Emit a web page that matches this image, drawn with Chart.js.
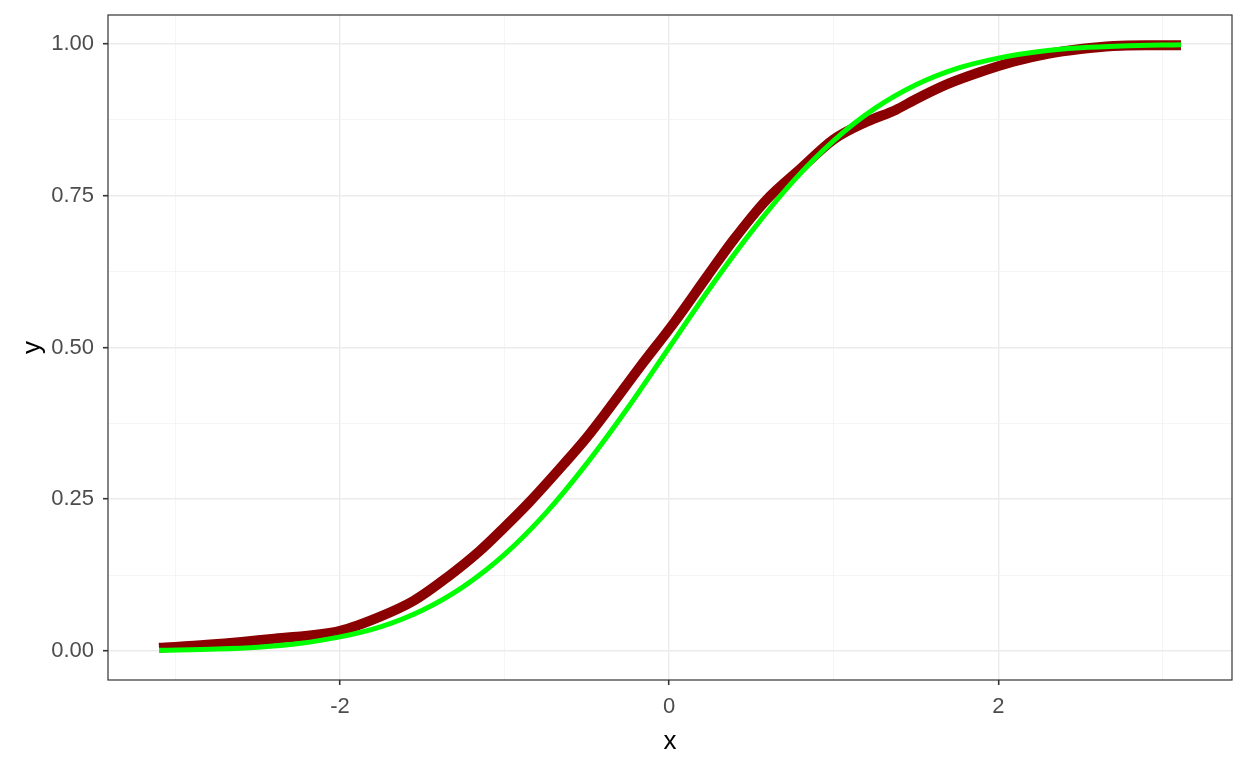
<!DOCTYPE html>
<html><head><meta charset="utf-8">
<script src="https://cdn.jsdelivr.net/npm/chart.js@4.4.1/dist/chart.umd.min.js"></script>
<style>html,body{margin:0;padding:0;background:#fff}#wrap{width:1248px;height:768px}</style>
</head><body><div id="wrap"><canvas id="c" width="1248" height="768"></canvas></div>
<script>
const redX = [-3.10,-2.81,-2.40,-2.00,-1.76,-1.55,-1.35,-1.15,-1.00,-0.85,-0.64,-0.50,-0.38,-0.18,0.03,0.23,0.39,0.59,0.80,1.00,1.20,1.38,1.49,1.69,1.89,2.09,2.30,2.50,2.70,2.90,3.11];
const redY = [0.005,0.010,0.020,0.033,0.056,0.083,0.121,0.165,0.204,0.245,0.308,0.352,0.394,0.467,0.541,0.617,0.677,0.743,0.795,0.843,0.872,0.892,0.908,0.934,0.954,0.971,0.984,0.992,0.997,0.998,0.998];
const greenX = [-3.10,-2.75,-2.50,-2.25,-2.00,-1.75,-1.50,-1.25,-1.00,-0.75,-0.50,-0.25,0.00,0.25,0.50,0.75,1.00,1.25,1.50,1.75,2.00,2.25,2.50,2.75,3.11];
const greenY = [0.001,0.003,0.006,0.012,0.023,0.040,0.067,0.106,0.159,0.227,0.309,0.401,0.500,0.599,0.691,0.773,0.841,0.894,0.933,0.960,0.977,0.988,0.994,0.997,0.999];
const xTicks = [-3,-2,-1,0,1,2,3];
const xLabels = [-2,0,2];
const yTicks = [0,0.125,0.25,0.375,0.5,0.625,0.75,0.875,1];
const yLabels = [0,0.25,0.5,0.75,1];

const isMajor = (v, list) => list.some(l => Math.abs(l - v) < 1e-9);
const toPts = (xs, ys) => xs.map((x, i) => ({x, y: ys[i]}));

const frame = {
  id: 'frame',
  afterDatasetsDraw(chart) {
    const {ctx, chartArea: a} = chart;
    ctx.save();
    ctx.strokeStyle = '#333333';
    ctx.lineWidth = 1.2;
    ctx.strokeRect(a.left, a.top, a.right - a.left, a.bottom - a.top);
    ctx.restore();
  }
};

new Chart(document.getElementById('c'), {
  type: 'line',
  data: {
    datasets: [
      {data: toPts(redX, redY), borderColor: '#8B0000', borderWidth: 10, pointRadius: 0, cubicInterpolationMode: 'monotone', borderCapStyle: 'butt', order: 2},
      {data: toPts(greenX, greenY), borderColor: '#00FF00', borderWidth: 5, pointRadius: 0, cubicInterpolationMode: 'monotone', borderCapStyle: 'butt', order: 1}
    ]
  },
  options: {
    responsive: false,
    animation: false,
    layout: {padding: {top: 15, right: 16, left: 0, bottom: 0}},
    plugins: {legend: {display: false}, tooltip: {enabled: false}},
    scales: {
      x: {
        type: 'linear', min: -3.41, max: 3.42,
        afterBuildTicks: s => { s.ticks = xTicks.map(v => ({value: v})); },
        afterFit: s => { s.height = 88; s.paddingLeft = 0; s.paddingRight = 0; },
        ticks: {
          autoSkip: false, maxRotation: 0, padding: 9,
          color: '#4D4D4D', font: {family: 'Liberation Sans, Arial, sans-serif', size: 22},
          callback: v => isMajor(v, xLabels) ? String(v) : ''
        },
        grid: {
          color: c => isMajor(c.tick.value, xLabels) ? '#EBEBEB' : '#F2F2F2',
          lineWidth: c => isMajor(c.tick.value, xLabels) ? 1.4 : 0.8,
          tickColor: c => isMajor(c.tick.value, xLabels) ? '#333333' : 'rgba(0,0,0,0)',
          tickWidth: 1.6, tickLength: 5, drawOnChartArea: true
        },
        border: {display: false},
        title: {display: true, text: 'x', color: '#000', font: {family: 'Liberation Sans, Arial, sans-serif', size: 26}, padding: {top: 0, bottom: 11}}
      },
      y: {
        type: 'linear', min: -0.048, max: 1.048,
        afterBuildTicks: s => { s.ticks = yTicks.map(v => ({value: v})); },
        afterFit: s => { s.width = 108; s.paddingTop = 0; s.paddingBottom = 0; },
        ticks: {
          autoSkip: false, padding: 9,
          color: '#4D4D4D', font: {family: 'Liberation Sans, Arial, sans-serif', size: 22},
          callback: v => isMajor(v, yLabels) ? v.toFixed(2) : ''
        },
        grid: {
          color: c => isMajor(c.tick.value, yLabels) ? '#EBEBEB' : '#F2F2F2',
          lineWidth: c => isMajor(c.tick.value, yLabels) ? 1.4 : 0.8,
          tickColor: c => isMajor(c.tick.value, yLabels) ? '#333333' : 'rgba(0,0,0,0)',
          tickWidth: 1.6, tickLength: 5
        },
        border: {display: false},
        title: {display: true, text: 'y', color: '#000', font: {family: 'Liberation Sans, Arial, sans-serif', size: 26}, padding: {top: 17, bottom: 0}}
      }
    }
  },
  plugins: [frame]
});
</script></body></html>
